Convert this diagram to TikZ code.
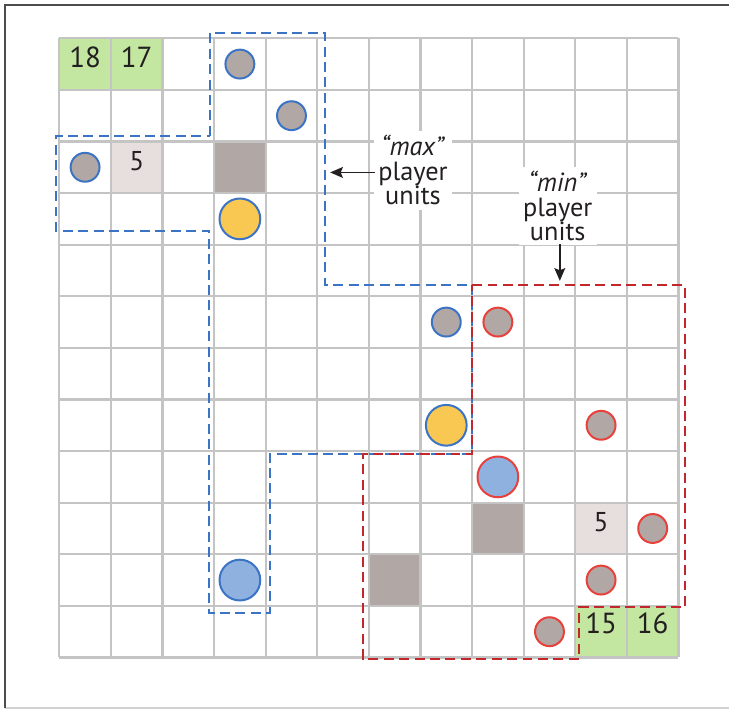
\documentclass[tikz,border=0pt]{standalone}
\usepackage{fontspec}
\setmainfont{PT Sans}
\usetikzlibrary{arrows.meta}
\definecolor{gridgray}{HTML}{C4C4C4}
\definecolor{goalgreen}{HTML}{C3E6A1}
\definecolor{lightcell}{HTML}{E6DFDD}
\definecolor{rockfill}{HTML}{B1A7A4}
\definecolor{maxblue}{HTML}{3B73C5}
\definecolor{minred}{HTML}{E8403A}
\definecolor{dashred}{HTML}{C1272D}
\definecolor{heroyellow}{HTML}{F9C852}
\definecolor{herobluefill}{HTML}{8EB1E0}
\definecolor{inkblack}{HTML}{231F20}
\begin{document}
\begin{tikzpicture}[x=1cm,y=1cm,
  gridline/.style={draw=gridgray,line width=1.3pt},
  smallunit/.style={circle,minimum size=0.56cm,inner sep=0pt,fill=rockfill,line width=1.1pt},
  bigunit/.style={circle,minimum size=0.79cm,inner sep=0pt,line width=1.1pt},
  bignum/.style={text=inkblack,font=\fontsize{16}{18}\selectfont,inner sep=0pt},
  smallnum/.style={text=inkblack,font=\fontsize{15}{17}\selectfont,inner sep=0pt},
  regionline/.style={line width=1.1pt,dash pattern=on 5.5pt off 3pt},
  callout/.style={align=center,fill=white,inner sep=2.5pt,text=inkblack,font=\fontsize{14.5}{13.5}\selectfont},
  pointer/.style={draw=inkblack,line width=0.8pt,-{Stealth[length=7pt,width=6pt,inset=1.2pt]}}
]
\useasboundingbox (-1.149,0.742) rectangle (12.979,-12.998);
% frame
\draw[draw=gray!35,line width=0.8pt] (-1.047,-12.979) -- (12.979,-12.979);
\draw[draw=black!70,line width=1.1pt] (-1.047,-12.979) -- (-1.047,0.645) -- (12.979,0.645);
% cell fills
\fill[goalgreen] (0,0) rectangle (2,-1);
\fill[goalgreen] (10,-11) rectangle (12,-12);
\fill[lightcell] (1,-2) rectangle (2,-3);
\fill[lightcell] (10,-9) rectangle (11,-10);
\fill[rockfill] (3,-2) rectangle (4,-3);
\fill[rockfill] (8,-9) rectangle (9,-10);
\fill[rockfill] (6,-10) rectangle (7,-11);
% grid
\draw[gridline] (0,0) grid (12,-12);
% numbers
\node[bignum] (n18) at (0.5,-0.37) {18};
\node[bignum] (n17) at (1.5,-0.37) {17};
\node[bignum] (n15) at (10.5,-11.33) {15};
\node[bignum] (n16) at (11.5,-11.33) {16};
\node[smallnum] (n5a) at (1.5,-2.38) {5};
\node[smallnum] (n5b) at (10.5,-9.38) {5};
% regions
\draw[regionline,draw=maxblue] (2.92,-1.89) -- (2.92,0.10) -- (5.15,0.10) -- (5.15,-4.78) -- (8.0,-4.78) -- (8.0,-8.06) -- (4.08,-8.06) -- (4.08,-11.14) -- (2.90,-11.14) -- (2.90,-3.73) -- (-0.06,-3.73) -- (-0.06,-1.89) -- cycle;
\draw[regionline,draw=dashred] (8.0,-4.78) -- (12.13,-4.78) -- (12.13,-11.03) -- (10.07,-11.03) -- (10.07,-12.03) -- (5.88,-12.03) -- (5.88,-8.06) -- (8.0,-8.06) -- cycle;
% max units
\node[smallunit,draw=maxblue] (b1) at (3.5,-0.5) {};
\node[smallunit,draw=maxblue] (b2) at (4.5,-1.5) {};
\node[smallunit,draw=maxblue] (b3) at (0.5,-2.5) {};
\node[smallunit,draw=maxblue] (b4) at (7.5,-5.5) {};
\node[bigunit,draw=maxblue,fill=heroyellow] (by1) at (3.5,-3.5) {};
\node[bigunit,draw=maxblue,fill=heroyellow] (by2) at (7.5,-7.5) {};
\node[bigunit,draw=maxblue,fill=herobluefill] (bb) at (3.5,-10.5) {};
% min units
\node[smallunit,draw=minred] (r1) at (8.5,-5.5) {};
\node[smallunit,draw=minred] (r2) at (10.5,-7.5) {};
\node[smallunit,draw=minred] (r3) at (11.5,-9.5) {};
\node[smallunit,draw=minred] (r4) at (10.5,-10.5) {};
\node[smallunit,draw=minred] (r5) at (9.5,-11.5) {};
\node[bigunit,draw=minred,fill=herobluefill] (rb) at (8.5,-8.5) {};
% callouts
\node[callout] (maxlbl) at (6.855,-2.56) {\textit{“max”}\\player\\units};
\coordinate (maxtip) at (5.25,-2.6);
\coordinate (maxstart) at (6.12,-2.6);
\draw[pointer] (maxstart) -- (maxtip);
\node[callout] (minlbl) at (9.66,-3.25) {\textit{“min”}\\player\\units};
\coordinate (mintip) at (9.7,-4.70);
\coordinate (minstart) at (9.7,-3.99);
\draw[pointer] (minstart) -- (mintip);
\end{tikzpicture}
\end{document}
